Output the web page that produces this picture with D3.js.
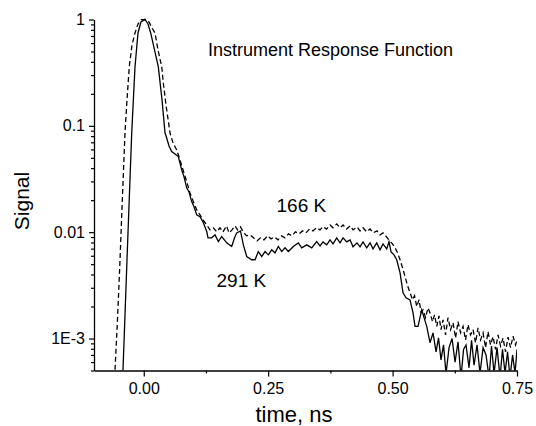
<!DOCTYPE html>
<html><head><meta charset="utf-8">
<script src="https://cdnjs.cloudflare.com/ajax/libs/d3/7.8.5/d3.min.js"></script>
<style>
html,body{margin:0;padding:0;background:#fff;}
svg{display:block;font-family:"Liberation Sans",Arial,sans-serif;}
</style></head>
<body>
<svg id="chart" width="536" height="426"></svg>
<script>
// ---- data ----
const xMajorTicks = [0, 0.25, 0.5, 0.75];
const xMinorTicks = [0.125, 0.375, 0.625];
const yMajorTicks = [1, 0.1, 0.01, 0.001];
const yTickLabels = ["1", "0.1", "0.01", "1E-3"];
const seriesNames = ["291 K", "166 K"];

// 291 K (solid): [time ns, signal]
const data291 = [[-0.0447,3.6e-4],[-0.0417,5.1e-4],[-0.0337,0.0055],[-0.0242,0.086],[-0.0176,0.36],[-0.0116,0.747],[-0.0056,0.947],[0.0025,1.0],[0.0085,0.907],[0.0139,0.747],[0.0216,0.517],[0.0292,0.36],[0.0367,0.175],[0.0427,0.086],[0.0461,0.0769],[0.0507,0.0647],[0.0561,0.0573],[0.0628,0.0544],[0.0694,0.0514],[0.0762,0.0385],[0.0809,0.0331],[0.0863,0.0261],[0.0909,0.0239],[0.0963,0.0194],[0.101,0.0173],[0.1064,0.01455],[0.113,0.0140],[0.119,0.0125],[0.1265,0.01014],[0.1291,0.00884],[0.1365,0.00884],[0.1432,0.00943],[0.1498,0.00816],[0.1566,0.0091],[0.1667,0.00793],[0.1767,0.00733],[0.1824,0.00884],[0.1868,0.00985],[0.1944,0.01028],[0.2001,0.0076],[0.2069,0.0059],[0.2169,0.0055],[0.2236,0.0055],[0.2302,0.00657],[0.237,0.0059],[0.2437,0.00657],[0.2503,0.00612],[0.2571,0.00682],[0.2637,0.00639],[0.2704,0.00733],[0.2772,0.00657],[0.2838,0.00712],[0.2905,0.00657],[0.3005,0.00733],[0.3106,0.00793],[0.3174,0.00712],[0.3275,0.0076],[0.3375,0.00712],[0.3475,0.00816],[0.3542,0.00743],[0.3602,0.0081],[0.3676,0.0076],[0.3743,0.00847],[0.3803,0.00776],[0.3877,0.00884],[0.3944,0.00793],[0.4004,0.00884],[0.4078,0.0081],[0.4145,0.00847],[0.4205,0.00728],[0.4285,0.00793],[0.4346,0.00728],[0.4406,0.0081],[0.448,0.00712],[0.4547,0.00793],[0.4607,0.00697],[0.4681,0.00793],[0.4748,0.00682],[0.4808,0.00776],[0.4882,0.00697],[0.4928,0.0081],[0.4969,0.00653],[0.5029,0.00612],[0.5083,0.0055],[0.515,0.00414],[0.521,0.00269],[0.527,0.00241],[0.535,0.00231],[0.5411,0.00174],[0.5451,0.0013],[0.5511,0.0013],[0.5586,0.00186],[0.5632,0.00157],[0.5686,0.0013],[0.5752,0.000912],[0.5813,0.00113],[0.5873,7.5e-4],[0.5923,1.015e-3],[0.5973,6.3e-4],[0.6024,8.7e-4],[0.6074,4.66e-4],[0.6134,8.2e-4],[0.6195,1.0e-3],[0.6255,6.0e-4],[0.6315,9.3e-4],[0.6375,4.3e-4],[0.6426,7.9e-4],[0.6476,8.7e-4],[0.6536,5.3e-4],[0.6587,9.6e-4],[0.6637,5.6e-4],[0.6697,8.7e-4],[0.6757,4.7e-4],[0.6818,8.2e-4],[0.6878,7.0e-4],[0.6938,4.3e-4],[0.6988,8.5e-4],[0.7039,4.7e-4],[0.7099,8.2e-4],[0.7159,4.3e-4],[0.7209,7.9e-4],[0.726,4.7e-4],[0.731,7.5e-4],[0.736,4.3e-4],[0.7411,7.0e-4],[0.7461,4.7e-4],[0.75,7.9e-4]];

// 166 K (dashed): [time ns, signal]
const data166 = [[-0.0618,3.6e-4],[-0.0578,5.0e-4],[-0.0528,0.0015],[-0.0477,0.0055],[-0.0427,0.0224],[-0.0377,0.086],[-0.0337,0.175],[-0.0291,0.36],[-0.0236,0.576],[-0.0176,0.747],[-0.0116,0.907],[-0.0056,0.99],[0.0025,1.0],[0.0105,0.947],[0.0166,0.832],[0.0226,0.747],[0.0286,0.517],[0.0361,0.36],[0.0393,0.253],[0.0447,0.157],[0.0527,0.086],[0.0588,0.0691],[0.0662,0.0593],[0.0728,0.0478],[0.0789,0.0385],[0.0859,0.0303],[0.0929,0.0234],[0.099,0.0197],[0.1064,0.0162],[0.113,0.01454],[0.119,0.01306],[0.1265,0.0117],[0.1331,0.0105],[0.1398,0.011],[0.1466,0.01006],[0.1532,0.011],[0.1592,0.01006],[0.1663,0.01146],[0.1713,0.00985],[0.1774,0.0105],[0.1834,0.01146],[0.1884,0.0105],[0.1944,0.0112],[0.1994,0.01014],[0.2065,0.00923],[0.2135,0.00944],[0.2206,0.00884],[0.2276,0.00828],[0.2346,0.00884],[0.2416,0.00847],[0.2487,0.00923],[0.2557,0.00865],[0.2627,0.00903],[0.2698,0.00847],[0.2768,0.00923],[0.2838,0.00884],[0.2909,0.00964],[0.2979,0.00923],[0.3049,0.01006],[0.312,0.00964],[0.319,0.01028],[0.326,0.00985],[0.3331,0.0107],[0.3401,0.01028],[0.3471,0.011],[0.3542,0.0105],[0.3602,0.0113],[0.3672,0.0107],[0.3743,0.0117],[0.3803,0.011],[0.3877,0.01197],[0.3944,0.011],[0.4004,0.0117],[0.4075,0.0107],[0.4145,0.01146],[0.4205,0.0105],[0.4285,0.0112],[0.4346,0.01028],[0.4406,0.011],[0.448,0.01006],[0.4547,0.0107],[0.4607,0.00985],[0.4687,0.01028],[0.4748,0.00944],[0.4808,0.00985],[0.4878,0.00903],[0.4949,0.00816],[0.4999,0.00776],[0.5049,0.00712],[0.51,0.00639],[0.515,0.0055],[0.52,0.00462],[0.525,0.00383],[0.5301,0.00313],[0.5351,0.00269],[0.5401,0.00231],[0.5441,0.00252],[0.5486,0.002],[0.5532,0.00231],[0.5572,0.00176],[0.5612,0.00186],[0.5662,0.00157],[0.5712,0.00194],[0.5752,0.00174],[0.5803,0.00144],[0.5843,0.00167],[0.5887,0.0013],[0.5933,0.00163],[0.5973,0.00121],[0.6014,0.0015],[0.6064,0.00108],[0.6114,0.00157],[0.6165,0.00121],[0.6215,0.00141],[0.6265,0.00101],[0.6315,0.00144],[0.6366,0.00113],[0.6416,0.0013],[0.6466,0.00097],[0.6516,0.00135],[0.6567,0.00108],[0.6617,0.00121],[0.6667,0.000912],[0.6717,0.00126],[0.6767,0.00097],[0.6818,0.00113],[0.6868,0.000818],[0.6918,0.00116],[0.6968,0.00087],[0.7018,0.00104],[0.7069,0.00079],[0.7119,0.00108],[0.7169,0.00085],[0.7219,0.00101],[0.727,0.00075],[0.732,0.00103],[0.737,0.00082],[0.742,0.00105],[0.7471,0.00087],[0.75,0.00097]];

// ---- layout ----
const svg = d3.select("#chart");
const L = 94, R = 517, T = 19.5, B = 370.5;
const x = d3.scaleLinear().domain([-0.1, 0.75]).range([L, R]);
const y = d3.scaleLog().domain([5e-4, 1]).range([B, T]);

svg.append("defs").append("clipPath").attr("id", "clip")
  .append("rect").attr("x", L).attr("y", 0).attr("width", R - L).attr("height", B);

const line = d3.line().x(d => x(d[0])).y(d => y(d[1]));
const g = svg.append("g").attr("clip-path", "url(#clip)");
g.append("path").datum(data166).attr("d", line)
  .attr("fill", "none").attr("stroke", "#000").attr("stroke-width", 1.3)
  .attr("stroke-dasharray", "5,3");
g.append("path").datum(data291).attr("d", line)
  .attr("fill", "none").attr("stroke", "#000").attr("stroke-width", 1.3);

// minor y ticks
const yMinor = [];
for (let e = -4; e <= -1; e++) for (let k = 2; k <= 9; k++) {
  const v = k * Math.pow(10, e);
  if (v >= 5e-4 && v < 1) yMinor.push(v);
}

const style = sel => {
  sel.selectAll("path.domain").attr("stroke", "#000").attr("stroke-width", 1.3);
  sel.selectAll(".tick line").attr("stroke", "#000").attr("stroke-width", 1.2);
  sel.selectAll(".tick text").attr("fill", "#000").style("font-size", "16px")
    .style("font-family", "'Liberation Sans', Arial, sans-serif");
};

svg.append("g").attr("transform", `translate(0,${B})`)
  .call(d3.axisBottom(x).tickValues(xMinorTicks).tickSize(3).tickFormat(""))
  .call(s => s.select("path.domain").remove())
  .call(style);
svg.append("g").attr("transform", `translate(0,${B})`)
  .call(d3.axisBottom(x).tickValues(xMajorTicks).tickSize(6).tickSizeOuter(0)
    .tickPadding(6).tickFormat(d3.format(".2f")))
  .call(style);

svg.append("g").attr("transform", `translate(${L},0)`)
  .call(d3.axisLeft(y).tickValues(yMinor).tickSize(3).tickFormat(""))
  .call(s => s.select("path.domain").remove())
  .call(style);
svg.append("g").attr("transform", `translate(${L},0)`)
  .call(d3.axisLeft(y).tickValues(yMajorTicks).tickSize(5).tickSizeOuter(0)
    .tickPadding(4).tickFormat((d, i) => yTickLabels[yMajorTicks.indexOf(d)]))
  .call(style);

// axis titles
svg.append("text").attr("x", 294).attr("y", 422)
  .attr("text-anchor", "middle").style("font-size", "22px").text("time, ns");
svg.append("text").attr("transform", "translate(29,201) rotate(-90)")
  .attr("text-anchor", "middle").style("font-size", "21px").text("Signal");

// annotations
svg.append("text").attr("x", 208).attr("y", 55.5).style("font-size", "18px")
  .text("Instrument Response Function");
svg.append("text").attr("x", 276.5).attr("y", 211.5).style("font-size", "19px")
  .text(seriesNames[1]);
svg.append("text").attr("x", 216.5).attr("y", 286.5).style("font-size", "19px")
  .text(seriesNames[0]);
</script>
</body></html>
